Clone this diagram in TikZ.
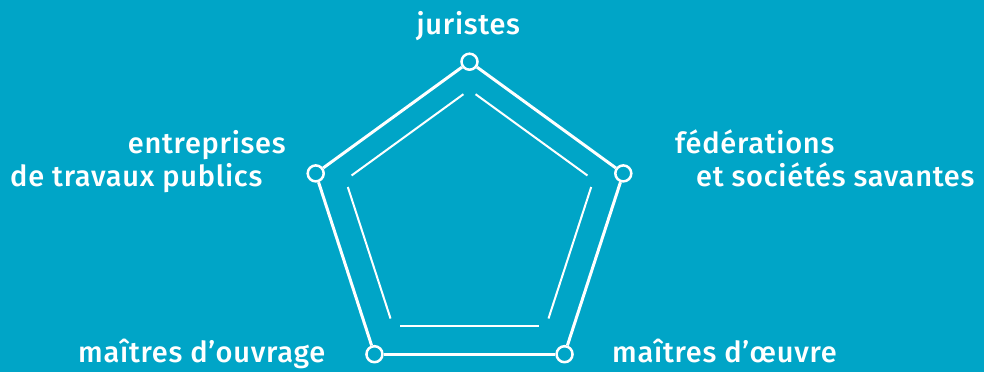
\documentclass[tikz,border=0pt]{standalone}
\usepackage{fontspec}
\setmainfont{Fira Sans}[UprightFont={* Medium}, LetterSpace=2.5]
\definecolor{bg}{RGB}{0,165,199}
\begin{document}
\begin{tikzpicture}[x=1pt,y=-1pt,
  outer/.style={white, line width=3pt},
  inner/.style={white, line width=2pt, shorten <=7.5pt, shorten >=7.5pt},
  vtx/.style={circle, draw=white, fill=bg, line width=2.5pt, minimum size=16pt, inner sep=0pt},
  lbl/.style={text=white, font=\fontsize{29}{33}\selectfont, inner sep=0pt}]
\fill[bg] (0,0) rectangle (984,372);
\useasboundingbox (0,0) rectangle (984,372);
% inner pentagon corners
\coordinate (i1) at (469.5,89.8);
\coordinate (i2) at (593.5,179.9);
\coordinate (i3) at (546.15,325.7);
\coordinate (i4) at (392.85,325.7);
\coordinate (i5) at (345.5,179.9);
\draw[inner] (i1) -- (i2);
\draw[inner] (i2) -- (i3);
\draw[inner] (i3) -- (i4);
\draw[inner] (i4) -- (i5);
\draw[inner] (i5) -- (i1);
% outer vertices
\node[vtx] (v1) at (469.5,61.7) {};
\node[vtx] (v2) at (623.3,173.4) {};
\node[vtx] (v3) at (564.55,354.2) {};
\node[vtx] (v4) at (374.45,354.2) {};
\node[vtx] (v5) at (315.7,173.4) {};
\draw[outer] (v1) -- (v2);
\draw[outer] (v2) -- (v3);
\draw[outer] (v3) -- (v4);
\draw[outer] (v4) -- (v5);
\draw[outer] (v5) -- (v1);
% labels
\node[lbl, anchor=base] (l1) at (468.3,34.3) {juristes};
\node[lbl, anchor=base west] (l5a) at (127.7,153) {entreprises};
\node[lbl, anchor=base west] (l5b) at (10,186.5) {de travaux publics};
\node[lbl, anchor=base west] (l2a) at (675,153) {fédérations};
\node[lbl, anchor=base west] (l2b) at (696,186.5) {et sociétés savantes};
\node[lbl, anchor=base west] (l4) at (78,362) {maîtres d’ouvrage};
\node[lbl, anchor=base west] (l3) at (612,362) {maîtres d’œuvre};
\end{tikzpicture}
\end{document}
